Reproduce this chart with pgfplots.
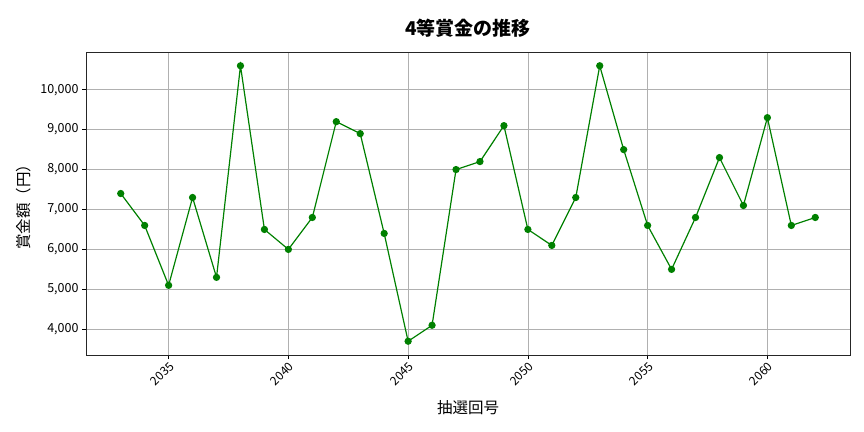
\documentclass[border=0pt]{standalone}
\usepackage{pgfplots}
\pgfplotsset{compat=1.18}
\usepackage{fontspec}
\setmainfont{Noto Sans CJK JP}
\usepackage{pgfplotstable}

\definecolor{mplgreen}{RGB}{0,128,0}
\definecolor{gridgray}{RGB}{176,176,176}

\pgfplotstableread{
draw prize
2033 7400
2034 6600
2035 5100
2036 7300
2037 5300
2038 10600
2039 6500
2040 6000
2041 6800
2042 9200
2043 8900
2044 6400
2045 3700
2046 4100
2047 8000
2048 8200
2049 9100
2050 6500
2051 6100
2052 7300
2053 10600
2054 8500
2055 6600
2056 5500
2057 6800
2058 8300
2059 7100
2060 9300
2061 6600
2062 6800
}\prizedata

\begin{document}
\begin{tikzpicture}
\begin{axis}[
  at={(0bp,0bp)}, anchor=south west,
  scale only axis,
  width=764bp, height=303bp,
  xmin=2031.55, xmax=2063.45,
  ymin=3355, ymax=10945,
  xtick={2035,2040,2045,2050,2055,2060},
  ytick={4000,5000,6000,7000,8000,9000,10000},
  /pgf/number format/assume math mode=true,
  x tick label style={/pgf/number format/1000 sep={}, rotate=45, anchor=north east, font=\fontsize{12bp}{14bp}\selectfont, inner sep=1.5bp},
  y tick label style={/pgf/number format/1000 sep={,}, font=\fontsize{12.5bp}{14bp}\selectfont},
  scaled y ticks=false,
  tick align=outside, tick pos=left,
  major tick length=4bp,
  tick style={black, line width=0.6bp},
  grid=major,
  grid style={gridgray, line width=0.6bp},
  axis line style={black!85, line width=0.8bp},
  xlabel={抽選回号},
  ylabel={賞金額（円）},
  xlabel style={font=\fontsize{15.5bp}{18bp}\selectfont, at={(0.5,0)}, yshift=-42bp},
  ylabel style={font=\fontsize{15.5bp}{18bp}\selectfont, yshift=2bp},
  title={\bfseries 4等賞金の推移},
  title style={font=\fontsize{19bp}{22bp}\selectfont, yshift=5bp},
]
\addplot [mplgreen, line width=1.2bp, mark=*, mark size=3bp, mark options={fill=mplgreen, draw=mplgreen}]
  table [x=draw, y=prize] {\prizedata};
\end{axis}
\pgfresetboundingbox
\path (-86bp,-77bp) rectangle (778bp,355bp);
\end{tikzpicture}
\end{document}
